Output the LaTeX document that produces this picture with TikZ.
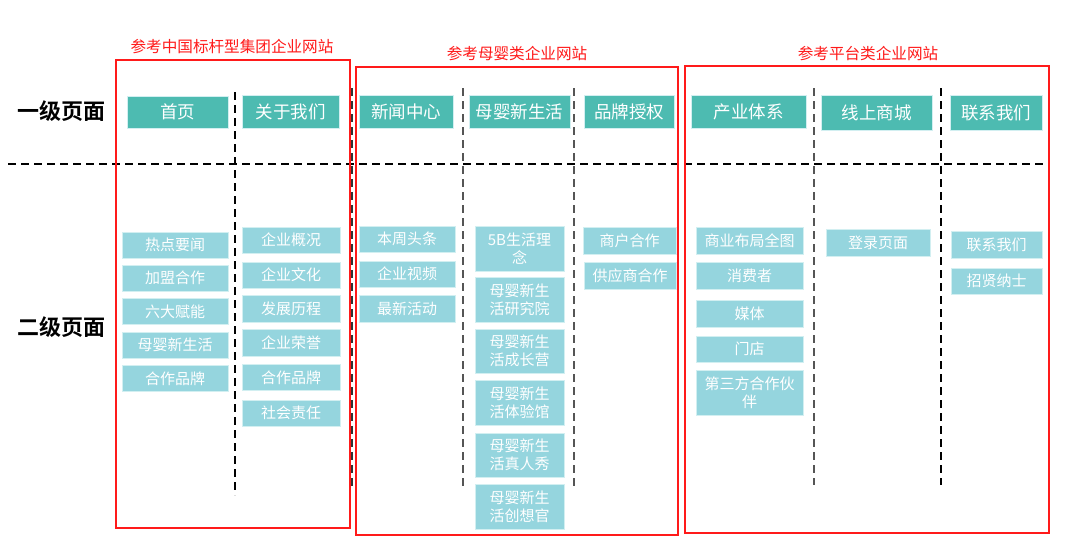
\documentclass[tikz,border=0pt]{standalone}
\usepackage{fontspec}
\setmainfont{Noto Sans CJK SC}
\newfontfamily\cjkb{Noto Sans CJK SC}[BoldFont={* Bold}]
\definecolor{prim}{HTML}{4DBBB1}
\definecolor{sec}{HTML}{95D5DE}
\definecolor{edge}{HTML}{D2EFF1}
\definecolor{rd}{HTML}{FF1A1A}
\definecolor{gdash}{HTML}{555555}
\begin{document}
\begin{tikzpicture}[x=1pt,y=-1pt,
  primbox/.style={fill=prim,draw=edge,line width=0.8pt,inner sep=0pt,text=white,
     font=\fontsize{17.5}{20}\selectfont,minimum height=33pt},
  secbox/.style={fill=sec,draw=edge,line width=0.8pt,inner sep=0pt,text=white,
     font=\fontsize{15}{18}\selectfont,minimum height=26pt,align=center},
  grp/.style={draw=rd,line width=1.1pt},
  grplabel/.style={text=rd,font=\fontsize{15.6}{18}\selectfont,inner sep=0pt},
  lvl/.style={font=\cjkb\bfseries\fontsize{22}{24}\selectfont,inner sep=0pt},
  sep/.style={dash pattern=on 8pt off 5pt,line width=1.2pt},
]
\useasboundingbox (0,0) rectangle (1071,539);
\fill[white] (0,0) rectangle (1071,539);

% separators
\draw[sep] (8,164) -- (1043,164);
\draw[sep] (235,92) -- (235,495);
\draw[sep,black!80] (352,88) -- (352,490);
\draw[sep,gdash] (463,88) -- (463,487);
\draw[sep,gdash] (574,88) -- (574,487);
\draw[sep,gdash] (814,88) -- (814,485);
\draw[sep] (941,88) -- (941,485);

% group frames
\draw[grp] (116,60) rectangle (350,528);
\draw[grp] (356,67) rectangle (678,535);
\draw[grp] (685,66) rectangle (1049,533);
\node[grplabel] (g1) at (232,47) {参考中国标杆型集团企业网站};
\node[grplabel] (g2) at (517,54) {参考母婴类企业网站};
\node[grplabel] (g3) at (868,54) {参考平台类企业网站};

% level labels
\node[lvl] (l1) at (61,111) {一级页面};
\node[lvl] (l2) at (61,327) {二级页面};

% first-level pages
\node[primbox,minimum width=101pt,minimum height=32pt] (p1) at (177.5,112) {首页};
\node[primbox,minimum width=97pt] (p2) at (290.5,112) {关于我们};
\node[primbox,minimum width=94pt] (p3) at (406,112) {新闻中心};
\node[primbox,minimum width=101pt] (p4) at (519.5,112) {母婴新生活};
\node[primbox,minimum width=90pt] (p5) at (629,112) {品牌授权};
\node[primbox,minimum width=115pt] (p6) at (748.5,112) {产业体系};
\node[primbox,minimum width=111pt,minimum height=35pt] (p7) at (876.5,112.5) {线上商城};
\node[primbox,minimum width=92pt,minimum height=35pt] (p8) at (996,112.5) {联系我们};

% second-level: column A
\node[secbox,minimum width=106pt] (a1) at (175,245) {热点要闻};
\node[secbox,minimum width=106pt] (a2) at (175,278) {加盟合作};
\node[secbox,minimum width=106pt] (a3) at (175,311.5) {六大赋能};
\node[secbox,minimum width=106pt] (a4) at (175,345) {母婴新生活};
\node[secbox,minimum width=106pt] (a5) at (175,378.5) {合作品牌};
% column B
\node[secbox,minimum width=98pt] (b1) at (291,240) {企业概况};
\node[secbox,minimum width=98pt] (b2) at (291,275) {企业文化};
\node[secbox,minimum width=98pt,minimum height=27pt] (b3) at (291,308.5) {发展历程};
\node[secbox,minimum width=98pt,minimum height=27pt] (b4) at (291,342.5) {企业荣誉};
\node[secbox,minimum width=98pt] (b5) at (291,377.5) {合作品牌};
\node[secbox,minimum width=98pt] (b6) at (291,413) {社会责任};
% column C
\node[secbox,minimum width=96pt] (c1) at (407,239) {本周头条};
\node[secbox,minimum width=96pt] (c2) at (407,274) {企业视频};
\node[secbox,minimum width=96pt,minimum height=27pt] (c3) at (407,308.5) {最新活动};
% column D
\node[secbox,minimum width=89pt,minimum height=45pt] (d1) at (519.5,248.5) {5B生活理\\念};
\node[secbox,minimum width=89pt,minimum height=45pt] (d2) at (519.5,299.5) {母婴新生\\活研究院};
\node[secbox,minimum width=89pt,minimum height=44pt] (d3) at (519.5,351) {母婴新生\\活成长营};
\node[secbox,minimum width=89pt,minimum height=45pt] (d4) at (519.5,402.5) {母婴新生\\活体验馆};
\node[secbox,minimum width=89pt,minimum height=44pt] (d5) at (519.5,455) {母婴新生\\活真人秀};
\node[secbox,minimum width=89pt,minimum height=45pt] (d6) at (519.5,506.5) {母婴新生\\活创想官};
% column E
\node[secbox,minimum width=93pt,minimum height=27pt] (e1) at (629.5,240.5) {商户合作};
\node[secbox,minimum width=92pt,minimum height=27pt] (e2) at (630,275.5) {供应商合作};
% column F
\node[secbox,minimum width=107pt,minimum height=27pt] (f1) at (749.5,240.5) {商业布局全图};
\node[secbox,minimum width=107pt,minimum height=27pt] (f2) at (749.5,275.5) {消费者};
\node[secbox,minimum width=107pt,minimum height=27pt] (f3) at (749.5,313.5) {媒体};
\node[secbox,minimum width=107pt] (f4) at (749.5,349) {门店};
\node[secbox,minimum width=107pt,minimum height=45pt] (f5) at (749.5,392.5) {第三方合作伙\\伴};
% column G
\node[secbox,minimum width=104pt,minimum height=27pt] (g1b) at (878,242.5) {登录页面};
% column H
\node[secbox,minimum width=91pt,minimum height=27pt] (h1) at (996.5,244.5) {联系我们};
\node[secbox,minimum width=91pt] (h2) at (996.5,281) {招贤纳士};
\end{tikzpicture}
\end{document}
